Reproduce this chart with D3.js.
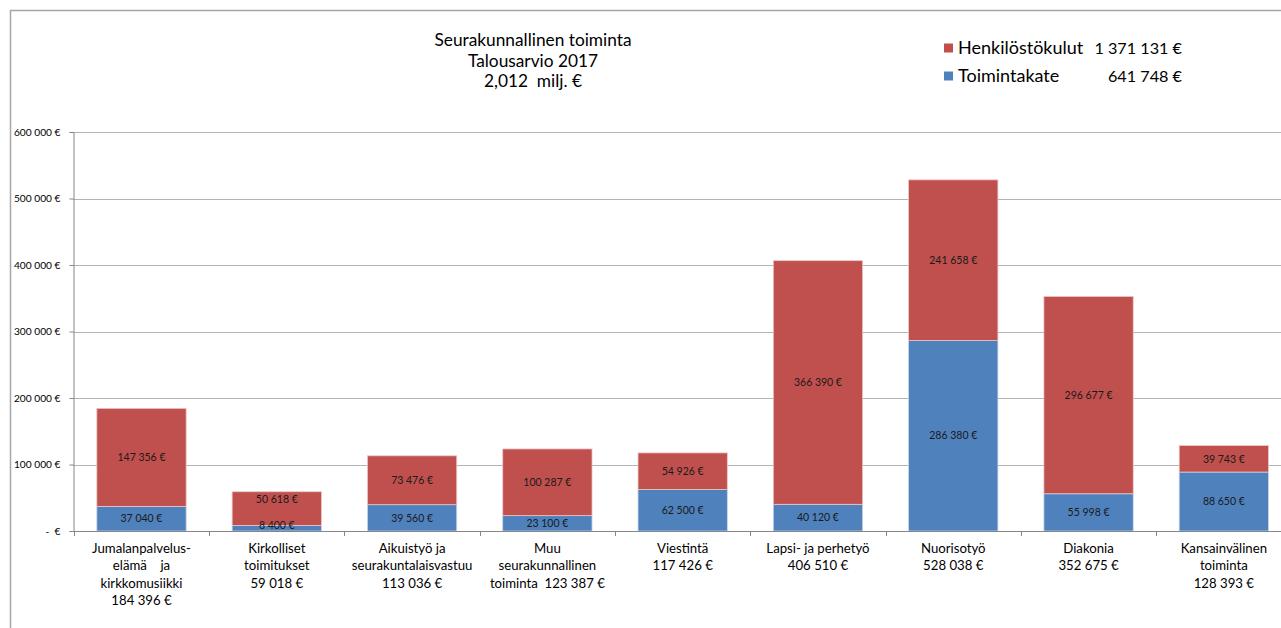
<!DOCTYPE html>
<html>
<head>
<meta charset="utf-8">
<script src="https://cdn.jsdelivr.net/npm/d3@7/dist/d3.min.js"></script>
<style>
  html, body { margin: 0; padding: 0; background: #fff; }
  svg { display: block; }
  text { font-family: Lato, "Open Sans", sans-serif; fill: #000; white-space: pre; }
</style>
</head>
<body>
<svg id="chart" width="1281" height="628"></svg>
<script>
const categories = ["Jumalanpalvelus", "Kirkolliset", "Aikuistyö", "Muu", "Viestintä", "Lapsi", "Nuorisotyö", "Diakonia", "Kansainvälinen"];
const categoryLabels = [
  ["Jumalanpalvelus-", "elämä    ja", "kirkkomusiikki", "184 396 €"],
  ["Kirkolliset", "toimitukset", "59 018 €"],
  ["Aikuistyö ja", "seurakuntalaisvastuu", "113 036 €"],
  ["Muu", "seurakunnallinen", "toiminta  123 387 €"],
  ["Viestintä", "117 426 €"],
  ["Lapsi- ja perhetyö", "406 510 €"],
  ["Nuorisotyö", "528 038 €"],
  ["Diakonia", "352 675 €"],
  ["Kansainvälinen", "toiminta", "128 393 €"]
];
const toimintakate = [37040, 8400, 39560, 23100, 62500, 40120, 286380, 55998, 88650];
const henkilostokulut = [147356, 50618, 73476, 100287, 54926, 366390, 241658, 296677, 39743];
const seriesNames = ["Toimintakate", "Henkilöstökulut"];
const legendValues = ["641 748 €", "1 371 131 €"];
const yTicks = [0, 100000, 200000, 300000, 400000, 500000, 600000];
const yTickLabels = ["-  €", "100 000 €", "200 000 €", "300 000 €", "400 000 €", "500 000 €", "600 000 €"];
const titleLines = ["Seurakunnallinen toiminta", "Talousarvio 2017", "2,012  milj. €"];
const colors = ["#4F81BD", "#C0504D"];

const svg = d3.select("#chart");

// outer frame
svg.append("path").attr("d", "M10.5,628 L10.5,10.5 L1281,10.5")
  .attr("fill", "none").attr("stroke", "#a6a6a6").attr("stroke-width", 1.5);

const x = d3.scaleBand().domain(categories).range([73.85, 1291.5]).paddingInner(0.34).paddingOuter(0.17);
const y = d3.scaleLinear().domain([0, 600000]).range([531, 132]);

// gridlines
svg.append("g").selectAll("line").data(yTicks.slice(1)).join("line")
  .attr("x1", 73).attr("x2", 1281)
  .attr("y1", d => Math.round(y(d)) + 0.5).attr("y2", d => Math.round(y(d)) + 0.5)
  .attr("stroke", "#b3b3b3").attr("stroke-width", 1);

// stacked data
const rows = categories.map((c, i) => ({ cat: c, Toimintakate: toimintakate[i], "Henkilöstökulut": henkilostokulut[i] }));
const stack = d3.stack().keys(seriesNames)(rows);

const fmt = v => d3.format(",")(v).replace(/,/g, " ") + " €";

stack.forEach((layer, li) => {
  svg.append("g").selectAll("rect").data(layer).join("rect")
    .attr("x", d => x(d.data.cat))
    .attr("width", x.bandwidth())
    .attr("y", d => y(d[1]))
    .attr("height", d => y(d[0]) - y(d[1]))
    .attr("fill", colors[li])
    .attr("stroke", li === 0 ? "#c6d4e8" : "#eac6c5")
    .attr("stroke-width", 0.8);
});

// labels with simple overlap avoidance
categories.forEach((c, i) => {
  const b = stack[0][i], r = stack[1][i];
  let yb = Math.min((y(b[0]) + y(b[1])) / 2, y(0) - 6);
  let yr = (y(r[0]) + y(r[1])) / 2;
  if (yb - yr < 26) yr = yb - 26;
  const cx = x(c) + x.bandwidth() / 2;
  svg.append("text").attr("x", cx).attr("y", yb).attr("dy", "0.35em")
    .attr("text-anchor", "middle").attr("font-size", 10.5).style("fill", "#1a1a1a").text(fmt(b.data.Toimintakate));
  svg.append("text").attr("x", cx).attr("y", yr).attr("dy", "0.35em")
    .attr("text-anchor", "middle").attr("font-size", 10.5).style("fill", "#1a1a1a").text(fmt(r.data["Henkilöstökulut"]));
});

// y axis
const yAxis = d3.axisLeft(y).tickValues(yTicks).tickSize(4).tickPadding(9).tickFormat((d, i) => yTickLabels[i]);
const gy = svg.append("g").attr("transform", "translate(73.5,0)").call(yAxis);
gy.select(".domain").attr("stroke", "#868686");
gy.selectAll(".tick line").attr("stroke", "#868686");
gy.selectAll(".tick text").attr("font-size", 10.2).attr("font-family", "Lato, sans-serif").style("fill", "#000").style("white-space", "pre");

// x axis line and separators
svg.append("line").attr("x1", 73).attr("x2", 1281).attr("y1", 531.5).attr("y2", 531.5).attr("stroke", "#868686");
svg.append("g").selectAll("line").data(categories).join("line")
  .attr("x1", d => Math.round(x(d) - x.step() * x.paddingInner() / 2) + 0.5)
  .attr("x2", d => Math.round(x(d) - x.step() * x.paddingInner() / 2) + 0.5)
  .attr("y1", 531).attr("y2", 536).attr("stroke", "#868686");

// category labels
categories.forEach((c, i) => {
  const t = svg.append("text").attr("x", x(c) + x.bandwidth() / 2).attr("text-anchor", "middle").attr("font-size", 13.2);
  categoryLabels[i].forEach((line, k) => {
    t.append("tspan").attr("x", x(c) + x.bandwidth() / 2).attr("y", 553 + k * 17.3).text(line);
  });
});

// title
const title = svg.append("text").attr("text-anchor", "middle").attr("font-size", 17.3);
titleLines.forEach((l, k) => {
  title.append("tspan").attr("x", 533).attr("y", 46 + k * 20.5).text(l);
});

// legend (Henkilöstökulut first)
[1, 0].forEach((si, k) => {
  const ly = 48 + k * 28;
  svg.append("rect").attr("x", 944).attr("y", ly - 4.5).attr("width", 9).attr("height", 9).attr("fill", colors[si]);
  svg.append("text").attr("x", 958).attr("y", ly).attr("dy", "0.35em").attr("font-size", 18).text(seriesNames[si]);
  svg.append("text").attr("x", 1182).attr("y", ly).attr("dy", "0.35em").attr("font-size", 16.2).attr("text-anchor", "end").text(legendValues[si]);
});
</script>
</body>
</html>
